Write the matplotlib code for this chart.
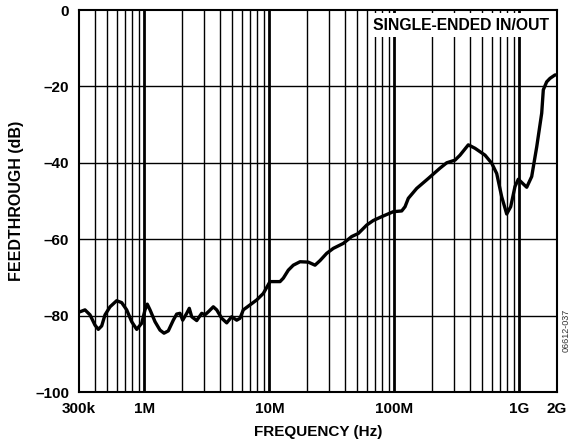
import matplotlib
matplotlib.use("Agg")
import matplotlib.pyplot as plt

plt.rcParams['font.family'] = ['Liberation Sans', 'DejaVu Sans']

freq_hz = [300e3, 305.6e3, 335.0e3, 367.4e3, 402.9e3, 428.1e3, 455.8e3, 484.4e3, 531.2e3, 600.5e3,
           658.5e3, 722.2e3, 791.9e3, 868.4e3, 952.3e3, 1.012e6, 1.055e6, 1.110e6, 1.217e6, 1.334e6,
           1.436e6, 1.554e6, 1.704e6, 1.814e6, 1.928e6, 2.026e6, 2.182e6, 2.288e6, 2.392e6, 2.623e6,
           2.876e6, 3.056e6, 3.248e6, 3.561e6, 3.791e6, 4.157e6, 4.558e6, 4.997e6, 5.480e6, 5.823e6,
           6.187e6, 7.000e6, 7.920e6, 8.944e6, 10.12e6, 12.17e6, 12.93e6, 14.18e6, 15.54e6, 17.59e6,
           20.49e6, 23.18e6, 25.42e6, 28.75e6, 32.48e6, 39.04e6, 45.57e6, 51.47e6, 60.07e6, 67.86e6,
           79.19e6, 98.06e6, 114.5e6, 121.7e6, 129.3e6, 150.9e6, 186.8e6, 231.8e6, 262.2e6, 305.6e6,
           335.1e6, 390.4e6, 441.8e6, 531.1e6, 600.6e6, 658.6e6, 722.2e6, 791.9e6, 852.2e6, 922.8e6,
           980.6e6, 1.063e9, 1.145e9, 1.255e9, 1.377e9, 1.509e9, 1.554e9, 1.654e9, 1.758e9, 1.928e9,
           2.0e9]
feedthrough_db = [-79.0, -79.0, -78.5, -79.8, -82.5, -83.6, -82.7, -79.8, -77.7, -76.1,
                  -76.6, -78.5, -81.6, -83.6, -82.0, -78.5, -77.0, -78.5, -81.6, -83.8,
                  -84.6, -84.0, -81.2, -79.6, -79.4, -81.2, -79.4, -78.1, -80.3, -81.3,
                  -79.4, -79.8, -79.0, -77.7, -78.5, -80.7, -81.9, -80.3, -81.2, -80.7,
                  -78.5, -77.2, -75.9, -74.2, -71.1, -71.1, -70.2, -68.1, -66.8, -65.9,
                  -66.0, -66.8, -65.6, -63.7, -62.4, -61.1, -59.3, -58.5, -56.3, -55.1,
                  -54.1, -52.8, -52.6, -51.5, -49.3, -46.7, -44.1, -41.4, -40.0, -39.3,
                  -38.0, -35.3, -36.2, -38.0, -40.1, -42.8, -48.9, -53.4, -51.5, -46.2,
                  -44.3, -45.4, -46.4, -43.6, -35.8, -27.0, -20.9, -18.8, -17.9, -17.0,
                  -17.0]

xtick_vals = [300e3, 1e6, 10e6, 100e6, 1e9, 2e9]
xtick_labels = ['300k', '1M', '10M', '100M', '1G', '2G']
ytick_vals = [0, -20, -40, -60, -80, -100]
ytick_labels = ['0', '–20', '–40', '–60', '–80', '–100']

fig = plt.figure(figsize=(5.71, 4.48), dpi=100)
ax = fig.add_axes([79/571, 1-392/448, 478/571, 382/448])
ax.set_xscale('log')
ax.set_xlim(300e3, 2e9)
ax.set_ylim(-100, 0)

# grid lines
for dec in [1e5, 1e6, 1e7, 1e8, 1e9]:
    for m in range(1, 10):
        f = dec * m
        if 300e3 < f < 2e9:
            lw = 2.0 if m == 1 else 1.0
            ax.axvline(f, color='black', lw=lw, zorder=1)
for yv in [-20, -40, -60, -80]:
    ax.axhline(yv, color='black', lw=1.0, zorder=1)

ax.plot(freq_hz, feedthrough_db, color='black', lw=2.4, zorder=3,
        solid_joinstyle='round', solid_capstyle='round')

ax.set_xticks(xtick_vals)
ax.set_xticklabels(xtick_labels, fontsize=11, fontweight='bold')
ax.xaxis.set_minor_locator(matplotlib.ticker.NullLocator())
ax.set_yticks(ytick_vals)
ax.set_yticklabels(ytick_labels, fontsize=11, fontweight='bold')
ax.tick_params(length=0, pad=7)
for s in ax.spines.values():
    s.set_linewidth(1.5)
    s.set_zorder(5)

ax.set_xlabel('FREQUENCY (Hz)', fontsize=11, fontweight='bold', labelpad=7)
ax.set_ylabel('FEEDTHROUGH (dB)', fontsize=11.5, fontweight='bold', labelpad=8)

ax.text(0.80, 0.96, 'SINGLE-ENDED IN/OUT', transform=ax.transAxes, ha='center', va='center',
        fontsize=11.3, fontweight='bold', zorder=6,
        bbox=dict(boxstyle='square,pad=0.3', facecolor='white', edgecolor='none'))

fig.text(566/571, 1-330/448, '06612-037', rotation=90, ha='center', va='center',
         fontsize=6.5, color='#333333')

fig.savefig('out.png', dpi=100)
